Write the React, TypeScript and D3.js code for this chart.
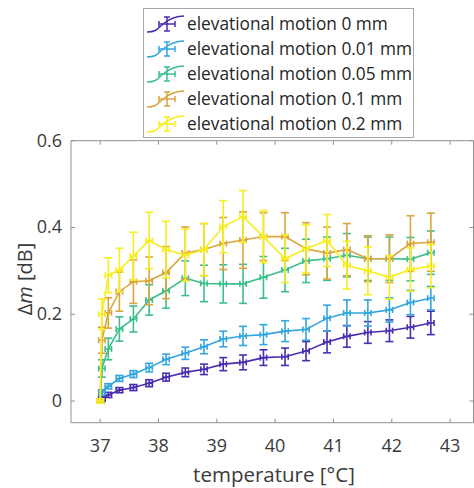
import React from "react";
import * as d3 from "d3";

const temps = [37.0, 37.03, 37.14, 37.33, 37.57, 37.84, 38.13, 38.46, 38.78, 39.11, 39.45, 39.8, 40.17, 40.53, 40.89, 41.23, 41.59, 41.96, 42.32, 42.67];
const tempErr = 0.055;

const seriesNames = ["elevational motion 0 mm", "elevational motion 0.01 mm", "elevational motion 0.05 mm", "elevational motion 0.1 mm", "elevational motion 0.2 mm"];
const seriesColors = ["#4a2db0", "#33a6de", "#3dbf8c", "#dba53d", "#f6ee1e"];

const motion0 = [0, 0.005, 0.014, 0.025, 0.031, 0.041, 0.055, 0.066, 0.073, 0.085, 0.089, 0.1, 0.102, 0.115, 0.136, 0.149, 0.158, 0.162, 0.17, 0.18];
const motion0Err = [0.004, 0.005, 0.006, 0.006, 0.007, 0.008, 0.009, 0.01, 0.012, 0.015, 0.017, 0.018, 0.02, 0.022, 0.025, 0.025, 0.025, 0.025, 0.025, 0.027];
const motion001 = [0, 0.02, 0.034, 0.052, 0.062, 0.077, 0.096, 0.11, 0.125, 0.143, 0.15, 0.153, 0.161, 0.165, 0.191, 0.203, 0.203, 0.21, 0.227, 0.237];
const motion001Err = [0.004, 0.006, 0.006, 0.007, 0.008, 0.01, 0.012, 0.014, 0.016, 0.018, 0.022, 0.023, 0.024, 0.025, 0.03, 0.03, 0.03, 0.028, 0.028, 0.027];
const motion005 = [0, 0.075, 0.12, 0.166, 0.189, 0.233, 0.254, 0.283, 0.271, 0.27, 0.27, 0.285, 0.302, 0.323, 0.328, 0.336, 0.328, 0.328, 0.327, 0.342];
const motion005Err = [0.005, 0.02, 0.025, 0.028, 0.03, 0.035, 0.04, 0.04, 0.042, 0.044, 0.045, 0.048, 0.05, 0.05, 0.05, 0.05, 0.05, 0.05, 0.05, 0.05];
const motion01 = [0, 0.14, 0.203, 0.252, 0.275, 0.277, 0.296, 0.341, 0.349, 0.363, 0.371, 0.379, 0.379, 0.351, 0.341, 0.349, 0.328, 0.328, 0.363, 0.366];
const motion01Err = [0.005, 0.03, 0.035, 0.045, 0.05, 0.055, 0.06, 0.06, 0.06, 0.06, 0.065, 0.055, 0.055, 0.06, 0.06, 0.06, 0.053, 0.055, 0.064, 0.067];
const motion02 = [0, 0.2, 0.29, 0.302, 0.334, 0.37, 0.349, 0.336, 0.349, 0.402, 0.425, 0.379, 0.328, 0.351, 0.37, 0.313, 0.3, 0.285, 0.303, 0.311];
const motion02Err = [0.005, 0.035, 0.04, 0.05, 0.055, 0.065, 0.065, 0.06, 0.06, 0.06, 0.06, 0.06, 0.055, 0.055, 0.06, 0.055, 0.055, 0.05, 0.05, 0.05];

const seriesValues = [motion0, motion001, motion005, motion01, motion02];
const seriesErrors = [motion0Err, motion001Err, motion005Err, motion01Err, motion02Err];

const xTicks = [37, 38, 39, 40, 41, 42, 43];
const yTicks = [0, 0.2, 0.4, 0.6];

export default function App() {
  const W = 474, H = 488;
  const left = 71, right = 473.5, top = 140.7, bottom = 422.7;
  const x = d3.scaleLinear().domain([36.5, 43.41]).range([left, 474]);
  const y = d3.scaleLinear().domain([-0.05, 0.6]).range([bottom, top]);
  const line = d3.line<[number, number]>().x(d => x(d[0])).y(d => y(d[1]));
  const axisColor = "#8f8f8f";
  const textColor = "#3a3a3a";
  const font = "'Open Sans', 'Noto Sans', sans-serif";
  const capV = 4;
  const capH = 3;

  return (
    <svg width={W} height={H} style={{ position: "absolute", left: 0, top: 0, background: "#fff" }} fontFamily={font}>
      <rect x={0} y={0} width={W} height={H} fill="#fff" />
      <g stroke={axisColor} strokeWidth={1} fill="none">
        <line x1={left} x2={right} y1={bottom} y2={bottom} />
        <line x1={left} x2={right} y1={top} y2={top} />
        <line x1={left} x2={left} y1={top} y2={bottom} />
        <line x1={right} x2={right} y1={top} y2={bottom} />
        {xTicks.map(t => (
          <g key={"xt" + t}>
            <line x1={x(t)} x2={x(t)} y1={bottom} y2={bottom - 4} />
            <line x1={x(t)} x2={x(t)} y1={top} y2={top + 4} />
          </g>
        ))}
        {yTicks.map(t => (
          <g key={"yt" + t}>
            <line x1={left} x2={left + 4} y1={y(t)} y2={y(t)} />
            <line x1={right} x2={right - 4} y1={y(t)} y2={y(t)} />
          </g>
        ))}
      </g>
      <g fill={textColor} fontSize={18}>
        {xTicks.map(t => (
          <text key={"xl" + t} x={x(t)} y={452} textAnchor="middle">{t}</text>
        ))}
        {yTicks.map(t => (
          <text key={"yl" + t} x={62} y={y(t) + 6} textAnchor="end">{t === 0 ? "0" : t.toFixed(1)}</text>
        ))}
        <text x={274} y={482} textAnchor="middle" fontSize={20.5}>temperature [°C]</text>
        <text transform={`translate(32,279) rotate(-90)`} textAnchor="middle" fontSize={20}>
          Δ<tspan fontStyle="italic">m</tspan> [dB]
        </text>
      </g>
      {seriesValues.map((vals, si) => {
        const errs = seriesErrors[si];
        const color = seriesColors[si];
        const pts = temps.map((t, i) => [t, vals[i]] as [number, number]);
        return (
          <g key={"s" + si} stroke={color} strokeWidth={1.6} fill="none">
            <path d={line(pts) || ""} />
            {temps.map((t, i) => {
              const cx = x(t), cy = y(vals[i]);
              const y1 = y(vals[i] + errs[i]), y2 = y(vals[i] - errs[i]);
              const x1 = x(t - tempErr), x2 = x(t + tempErr);
              return (
                <g key={i}>
                  <line x1={cx} x2={cx} y1={y1} y2={y2} />
                  <line x1={cx - capV} x2={cx + capV} y1={y1} y2={y1} />
                  <line x1={cx - capV} x2={cx + capV} y1={y2} y2={y2} />
                  <line x1={x1} x2={x2} y1={cy} y2={cy} />
                  <line x1={x1} x2={x1} y1={cy - capH} y2={cy + capH} />
                  <line x1={x2} x2={x2} y1={cy - capH} y2={cy + capH} />
                </g>
              );
            })}
          </g>
        );
      })}
      <rect x={143.5} y={8.5} width={270} height={129} fill="#fff" stroke="#a8a8a8" strokeWidth={1} />
      {seriesNames.map((name, i) => {
        const cy = 24 + i * 25;
        const color = seriesColors[i];
        const cx = 167;
        return (
          <g key={"lg" + i}>
            <g stroke={color} strokeWidth={1.5} fill="none">
              <path d={`M147,${cy + 8} C157,${cy + 8} 158,${cy + 4} 163,${cy} S175,${cy - 8} 184,${cy - 8}`} />
              <line x1={cx} x2={cx} y1={cy - 7} y2={cy + 7} />
              <line x1={cx - 3} x2={cx + 3} y1={cy - 7} y2={cy - 7} />
              <line x1={cx - 3} x2={cx + 3} y1={cy + 7} y2={cy + 7} />
              <line x1={cx - 8} x2={cx + 8} y1={cy} y2={cy} />
              <line x1={cx - 8} x2={cx - 8} y1={cy - 3} y2={cy + 3} />
              <line x1={cx + 8} x2={cx + 8} y1={cy - 3} y2={cy + 3} />
            </g>
            <text x={187} y={cy + 6} fontSize={17.3} fill="#262626">{name}</text>
          </g>
        );
      })}
    </svg>
  );
}
